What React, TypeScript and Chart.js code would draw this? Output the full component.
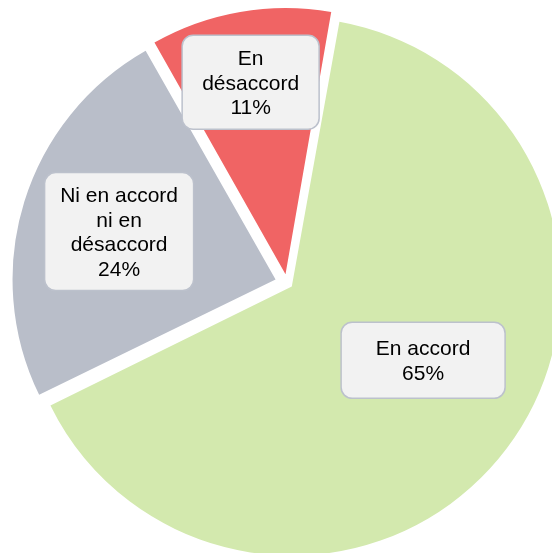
import React, { useEffect, useRef } from "react";
import { Chart, registerables } from "chart.js";

Chart.register(...registerables);

const categories = ["En accord", "Ni en accord ni en désaccord", "En désaccord"];
const values = [65, 24, 11];
const colors = ["#D3E9AE", "#B9BEC9", "#F06464"];

// desired outward displacement (px) of each exploded slice
const explode = 12;

const labelPlacement = [
  { radius: 0.55, angle: -8, width: 164, height: 76, wrap: 150 },
  { radius: 0.622, angle: -0.2, width: 149, height: 118, wrap: 125 },
  { radius: 0.73, angle: -0.5, width: 137, height: 94, wrap: 105 },
];

const FONT = "21px 'Liberation Sans', Arial, sans-serif";
const LINE_H = 24.5;

// Chart.js ArcElement translates by offset/4 * (2 - sin(min(PI, circumference)))
function factor(circ: number) {
  return (2 - Math.sin(Math.min(Math.PI, circ))) / 4;
}

function wrapText(ctx: CanvasRenderingContext2D, text: string, maxW: number): string[] {
  const words = text.split(" ");
  const lines: string[] = [];
  let cur = "";
  for (const w of words) {
    const test = cur ? cur + " " + w : w;
    if (ctx.measureText(test).width > maxW && cur) {
      lines.push(cur);
      cur = w;
    } else {
      cur = test;
    }
  }
  if (cur) lines.push(cur);
  return lines;
}

function roundRect(ctx: CanvasRenderingContext2D, x: number, y: number, w: number, h: number, r: number) {
  ctx.beginPath();
  ctx.moveTo(x + r, y);
  ctx.lineTo(x + w - r, y);
  ctx.arcTo(x + w, y, x + w, y + r, r);
  ctx.lineTo(x + w, y + h - r);
  ctx.arcTo(x + w, y + h, x + w - r, y + h, r);
  ctx.lineTo(x + r, y + h);
  ctx.arcTo(x, y + h, x, y + h - r, r);
  ctx.lineTo(x, y + r);
  ctx.arcTo(x, y, x + r, y, r);
  ctx.closePath();
}

const labelPlugin = {
  id: "boxLabels",
  afterDatasetsDraw(chart: any) {
    const ctx: CanvasRenderingContext2D = chart.ctx;
    const meta = chart.getDatasetMeta(0);
    const total = values.reduce((a, b) => a + b, 0);
    ctx.save();
    ctx.font = FONT;
    meta.data.forEach((arc: any, i: number) => {
      const p = arc.getProps(["x", "y", "startAngle", "endAngle", "outerRadius", "circumference"], true);
      const off = (arc.options.offset || 0) * factor(p.circumference);
      const mid = (p.startAngle + p.endAngle) / 2;
      const cx = p.x + Math.cos(mid) * off;
      const cy = p.y + Math.sin(mid) * off;
      const pl = labelPlacement[i];
      const a = mid + (pl.angle * Math.PI) / 180;
      const lx = cx + Math.cos(a) * p.outerRadius * pl.radius;
      const ly = cy + Math.sin(a) * p.outerRadius * pl.radius;
      const lines = wrapText(ctx, categories[i], pl.wrap);
      lines.push(Math.round((values[i] / total) * 100) + "%");
      const bx = lx - pl.width / 2;
      const by = ly - pl.height / 2;
      roundRect(ctx, bx, by, pl.width, pl.height, 11);
      ctx.fillStyle = "#F2F2F2";
      ctx.fill();
      ctx.lineWidth = 1.5;
      ctx.strokeStyle = "#BCC1CC";
      ctx.stroke();
      ctx.fillStyle = "#000000";
      ctx.textAlign = "center";
      ctx.textBaseline = "middle";
      const startY = ly - ((lines.length - 1) * LINE_H) / 2;
      lines.forEach((ln, j) => {
        ctx.fillText(ln, lx, startY + j * LINE_H + 1.5);
      });
    });
    ctx.restore();
  },
};

export default function App() {
  const ref = useRef<HTMLCanvasElement | null>(null);
  useEffect(() => {
    if (!ref.current) return;
    const total = values.reduce((a, b) => a + b, 0);
    const offsets = values.map((v) => explode / factor((v / total) * Math.PI * 2));
    const chart = new Chart(ref.current, {
      type: "pie",
      data: {
        labels: categories,
        datasets: [
          {
            data: values,
            backgroundColor: colors,
            borderWidth: 0,
            offset: offsets,
            hoverOffset: 0,
          },
        ],
      },
      options: {
        responsive: false,
        animation: false,
        rotation: 10,
        radius: 263,
        layout: { padding: { left: 22, top: 13, right: 0, bottom: 0 } },
        plugins: {
          legend: { display: false },
          tooltip: { enabled: false },
        },
        events: [],
      } as any,
      plugins: [labelPlugin],
    });
    return () => chart.destroy();
  }, []);
  return (
    <div
      style={{
        position: "fixed",
        left: 0,
        top: 0,
        width: 552,
        height: 553,
        overflow: "hidden",
        background: "#ffffff",
      }}
    >
      <canvas ref={ref} width={552} height={553} style={{ width: 552, height: 553, display: "block" }} />
    </div>
  );
}
